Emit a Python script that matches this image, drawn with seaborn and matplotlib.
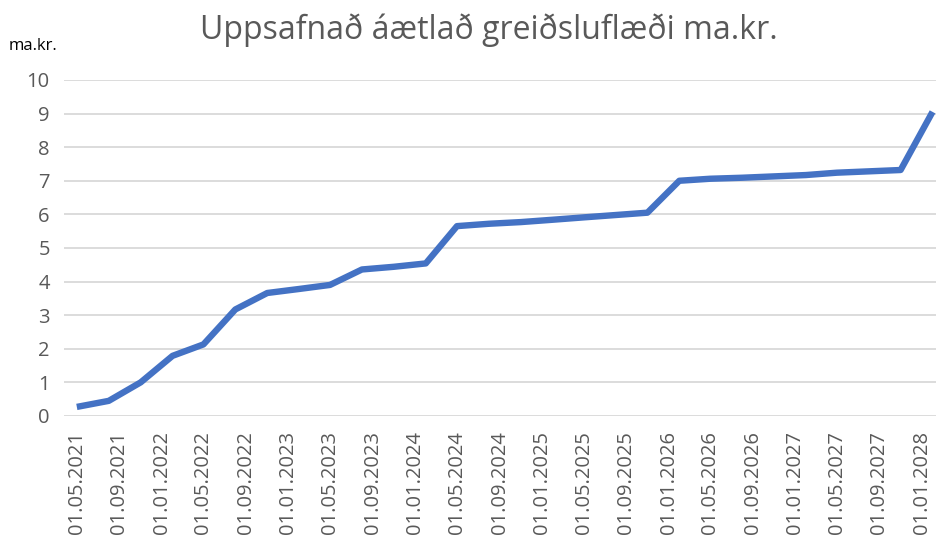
import matplotlib
matplotlib.use("Agg")
import matplotlib.pyplot as plt
import matplotlib.dates as mdates
import numpy as np
import pandas as pd
import seaborn as sns

# Gögn lesin af myndinni (ársfjórðungslega, ma.kr.)
dagsetningar = ["2021-05-01", "2021-08-01", "2021-11-01", "2022-02-01", "2022-05-01",
                "2022-08-01", "2022-11-01", "2023-02-01", "2023-05-01", "2023-08-01",
                "2023-11-01", "2024-02-01", "2024-05-01", "2024-08-01", "2024-11-01",
                "2025-02-01", "2025-05-01", "2025-08-01", "2025-11-01", "2026-02-01",
                "2026-05-01", "2026-08-01", "2026-11-01", "2027-02-01", "2027-05-01",
                "2027-08-01", "2027-11-01", "2028-02-01"]
uppsafnad = [0.27, 0.45, 1.00, 1.79, 2.13, 3.17, 3.66, 3.78, 3.90, 4.36,
             4.44, 4.54, 5.65, 5.72, 5.77, 5.84, 5.91, 5.98, 6.05, 7.00,
             7.06, 7.09, 7.13, 7.17, 7.24, 7.28, 7.32, 9.05]
titill = "Uppsafnað áætlað greiðsluflæði ma.kr."
eining = "ma.kr."

df = pd.DataFrame({"dags": pd.to_datetime(dagsetningar), "virdi": uppsafnad})

sns.set_style("white")
plt.rcParams['font.family'] = ['Open Sans', 'DejaVu Sans']

fig = plt.figure(figsize=(9.36, 5.42), dpi=100)
ax = fig.add_axes([0.068, 0.2325, 0.932, 0.62])

sns.lineplot(data=df, x="dags", y="virdi", ax=ax, color="#4472C4", linewidth=4.6,
             solid_joinstyle="round", solid_capstyle="butt")

# Ásar
ax.set_ylim(0, 10)
ax.set_yticks(range(0, 11))
ax.set_xlim(pd.Timestamp("2021-03-24"), pd.Timestamp("2028-02-11"))
ticks = pd.date_range("2021-05-01", "2028-01-01", freq="4MS")
ax.set_xticks(ticks)
ax.xaxis.set_major_formatter(mdates.DateFormatter("%d.%m.%Y"))
ax.tick_params(axis="x", labelrotation=90, labelsize=14.5, colors="#595959", length=0, pad=11)
ax.tick_params(axis="y", labelsize=14.5, colors="#595959", length=0, pad=10)
ax.set_xlabel("")
ax.set_ylabel("")
ax.grid(axis="y", color="#d9d9d9", linewidth=1.3)
ax.set_axisbelow(True)
for s in ax.spines.values():
    s.set_visible(False)

fig.text(0.522, 0.945, titill, ha="center", va="center", fontsize=23, color="#595959")
fig.text(0.009, 0.915, eining, ha="left", va="center", fontsize=12, color="black")

fig.savefig("out.png", dpi=100)
